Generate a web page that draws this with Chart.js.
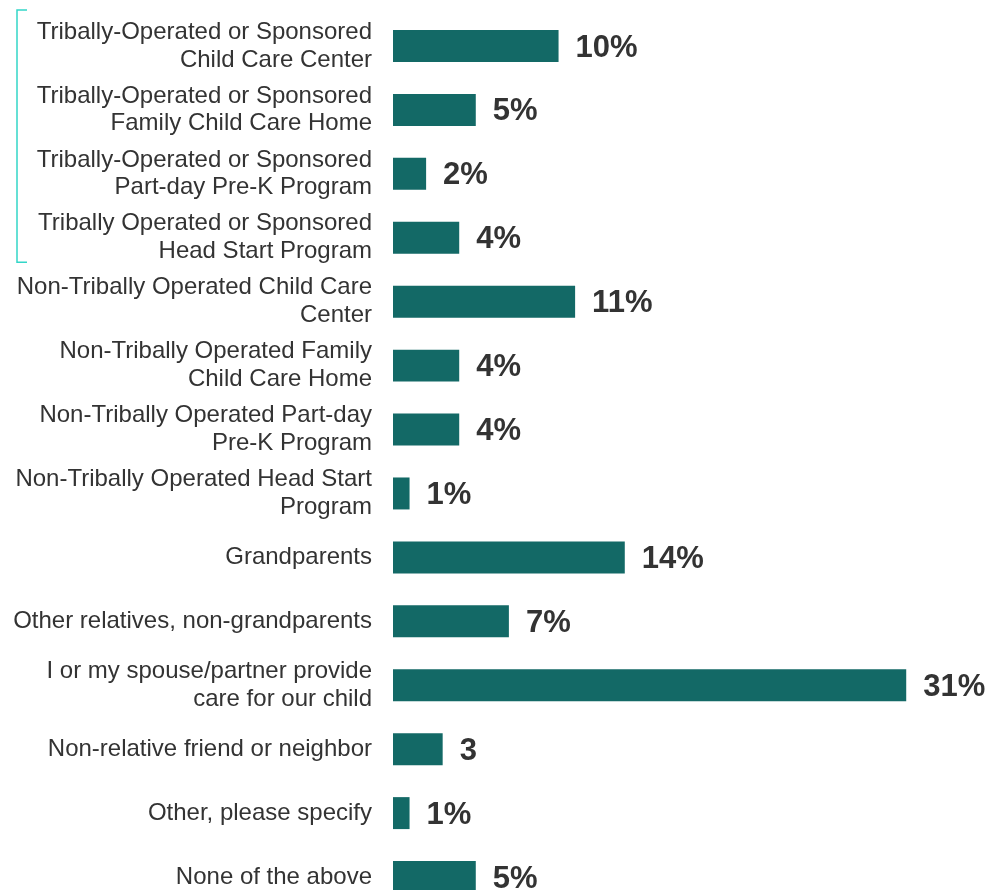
<!DOCTYPE html>
<html>
<head>
<meta charset="utf-8">
<script src="https://cdn.jsdelivr.net/npm/chart.js@4/dist/chart.umd.min.js"></script>
<style>
  html, body { margin: 0; padding: 0; background: #fff; overflow: hidden; }
  #wrap { position: relative; width: 991px; height: 909px; }
</style>
</head>
<body>
<div id="wrap"><canvas id="care"></canvas></div>
<script>
// Child care arrangements - share of respondents

const categories = [
  ['Tribally-Operated or Sponsored', 'Child Care Center'],
  ['Tribally-Operated or Sponsored', 'Family Child Care Home'],
  ['Tribally-Operated or Sponsored', 'Part-day Pre-K Program'],
  ['Tribally Operated or Sponsored', 'Head Start Program'],
  ['Non-Tribally Operated Child Care', 'Center'],
  ['Non-Tribally Operated Family', 'Child Care Home'],
  ['Non-Tribally Operated Part-day', 'Pre-K Program'],
  ['Non-Tribally Operated Head Start', 'Program'],
  'Grandparents',
  'Other relatives, non-grandparents',
  ['I or my spouse/partner provide', 'care for our child'],
  'Non-relative friend or neighbor',
  'Other, please specify',
  'None of the above'
];

const values = [10, 5, 2, 4, 11, 4, 4, 1, 14, 7, 31, 3, 1, 5];
const units = ['%', '%', '%', '%', '%', '%', '%', '%', '%', '%', '%', '', '%', '%'];

const COLORS = {
  bar: '#136966',
  text: '#333333',
  bracket: '#33d6c8'
};
const FONT = 'Arial, "Liberation Sans", Helvetica, sans-serif';

// bold value text to the right of each bar
const valueLabels = {
  id: 'valueLabels',
  afterDatasetsDraw(chart) {
    const ctx = chart.ctx;
    const meta = chart.getDatasetMeta(0);
    ctx.save();
    ctx.font = 'bold 31px ' + FONT;
    ctx.fillStyle = COLORS.text;
    ctx.textAlign = 'left';
    ctx.textBaseline = 'middle';
    meta.data.forEach((bar, i) => {
      ctx.fillText(values[i] + units[i], bar.x + 17, bar.y + 2);
    });
    ctx.restore();
  }
};

// thin bracket grouping the tribally operated options
const tribalBracket = {
  id: 'tribalBracket',
  afterDraw(chart) {
    const y = chart.scales.y;
    const top = y.getPixelForValue(0) - 36;
    const bottom = y.getPixelForValue(3) + 24.5;
    const ctx = chart.ctx;
    ctx.save();
    ctx.strokeStyle = COLORS.bracket;
    ctx.lineWidth = 1.5;
    ctx.beginPath();
    ctx.moveTo(27, top);
    ctx.lineTo(17, top);
    ctx.lineTo(17, bottom);
    ctx.lineTo(27, bottom);
    ctx.stroke();
    ctx.restore();
  }
};

new Chart(document.getElementById('care').getContext('2d'), {
  type: 'bar',
  data: {
    labels: categories,
    datasets: [{
      data: values,
      backgroundColor: COLORS.bar,
      borderWidth: 0,
      barPercentage: 0.5,
      categoryPercentage: 1
    }]
  },
  options: {
    indexAxis: 'y',
    responsive: true,
    maintainAspectRatio: false,
    animation: false,
    layout: { padding: { top: 14, right: 2, left: 0, bottom: 0 } },
    plugins: {
      legend: { display: false },
      tooltip: { enabled: false }
    },
    scales: {
      x: {
        display: false,
        min: 0,
        max: 36
      },
      y: {
        grid: { display: false, drawTicks: false, tickLength: 0 },
        border: { display: false },
        afterFit: scale => {
          scale.width = 393;
          scale.paddingTop = 0;
          scale.paddingBottom = 0;
        },
        ticks: {
          color: COLORS.text,
          padding: 21,
          font: { family: FONT, size: 24, lineHeight: 1.16 }
        }
      }
    }
  },
  plugins: [valueLabels, tribalBracket]
});
</script>
</body>
</html>
